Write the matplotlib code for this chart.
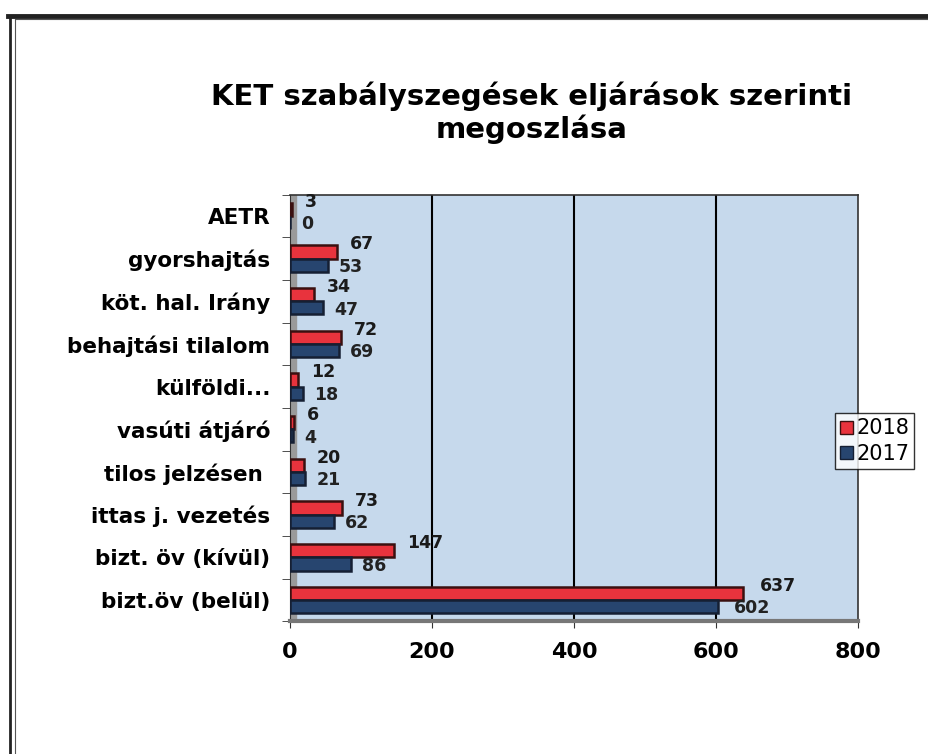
import numpy as np
import matplotlib.pyplot as plt
from matplotlib.lines import Line2D
from matplotlib.patches import Patch

plt.rcParams['font.family'] = ['DejaVu Sans']

categories = ['AETR', 'gyorshajtás', 'köt. hal. Irány', 'behajtási tilalom',
              'külföldi...', 'vasúti átjáró', 'tilos jelzésen ',
              'ittas j. vezetés', 'bizt. öv (kívül)', 'bizt.öv (belül)']
values_2018 = [3, 67, 34, 72, 12, 6, 20, 73, 147, 637]
values_2017 = [0, 53, 47, 69, 18, 4, 21, 62, 86, 602]
x_ticks = [0, 200, 400, 600, 800]

red = '#e8333d'
blue = '#27456f'
wall = '#c6d9ec'

fig = plt.figure(figsize=(9.29, 7.54), dpi=100)
fig.patch.set_facecolor('white')

# frame around the chart (scan border)
fig.add_artist(Line2D([0.009, 1.0], [0.979, 0.979], color='#222222', lw=3.5))
fig.add_artist(Line2D([0.011, 0.011], [0.0, 0.979], color='#222222', lw=2))
fig.add_artist(Line2D([0.016, 0.016], [0.0, 0.975], color='#555555', lw=0.8))
fig.add_artist(Line2D([0.016, 1.0], [0.975, 0.975], color='#555555', lw=0.8))

ax = fig.add_axes([0.312, 0.176, 0.612, 0.566])
ax.set_facecolor(wall)

n = len(categories)
y = np.arange(n)
h = 0.31

ax.axvspan(0, 9, color='#9a9a9a', zorder=1)
for gx in x_ticks[1:-1]:
    ax.axvline(gx, color='black', lw=1.5, zorder=1)

bars18 = ax.barh(y - h / 2, values_2018, height=h, color=red,
                 edgecolor='#3a1010', linewidth=1.8, zorder=3, label='2018')
bars17 = ax.barh(y + h / 2, values_2017, height=h, color=blue,
                 edgecolor='#151f33', linewidth=1.8, zorder=3, label='2017')

for i in range(n):
    off = 25 if values_2018[i] > 300 else 18
    ax.text(values_2018[i] + off, y[i] - 0.33, str(values_2018[i]),
            fontsize=12.5, fontweight='bold', color='#1a1a1a',
            va='center', ha='left', zorder=4)
    ax.text(values_2017[i] + off - 2, y[i] + 0.2, str(values_2017[i]),
            fontsize=12.5, fontweight='bold', color='#222222',
            va='center', ha='left', zorder=4)

ax.set_xlim(0, 800)
ax.set_ylim(n - 0.5, -0.5)
ax.set_xticks(x_ticks)
ax.set_xticklabels([str(t) for t in x_ticks], fontsize=16, fontweight='bold')
ax.set_yticks(y)
ax.set_yticklabels(categories, fontsize=15.5, fontweight='bold')
ax.set_yticks(np.arange(n + 1) - 0.5, minor=True)
ax.tick_params(axis='y', which='major', length=0, pad=14)
ax.tick_params(axis='y', which='minor', length=6, color='#333333')
ax.tick_params(axis='x', length=5, pad=10, color='#333333')

for side in ['top', 'right']:
    ax.spines[side].set_color('#333333')
    ax.spines[side].set_linewidth(1.2)
ax.spines['left'].set_color('#333333')
ax.spines['bottom'].set_color('#777777')
ax.spines['bottom'].set_linewidth(3)

fig.text(0.572, 0.851, 'KET szabályszegések eljárások szerinti\nmegoszlása',
         ha='center', va='center', fontsize=21, fontweight='bold',
         linespacing=1.15)

handles = [Patch(facecolor=red, edgecolor='#3a1010'),
           Patch(facecolor=blue, edgecolor='#151f33')]
fig.legend(handles, ['2018', '2017'], loc='center left',
           bbox_to_anchor=(0.899, 0.415), fontsize=15, frameon=True,
           fancybox=False, edgecolor='black', handlelength=0.6,
           handleheight=0.6, handletextpad=0.15, borderpad=0.25,
           labelspacing=0.25, borderaxespad=0)

fig.savefig('out.png', dpi=100)
